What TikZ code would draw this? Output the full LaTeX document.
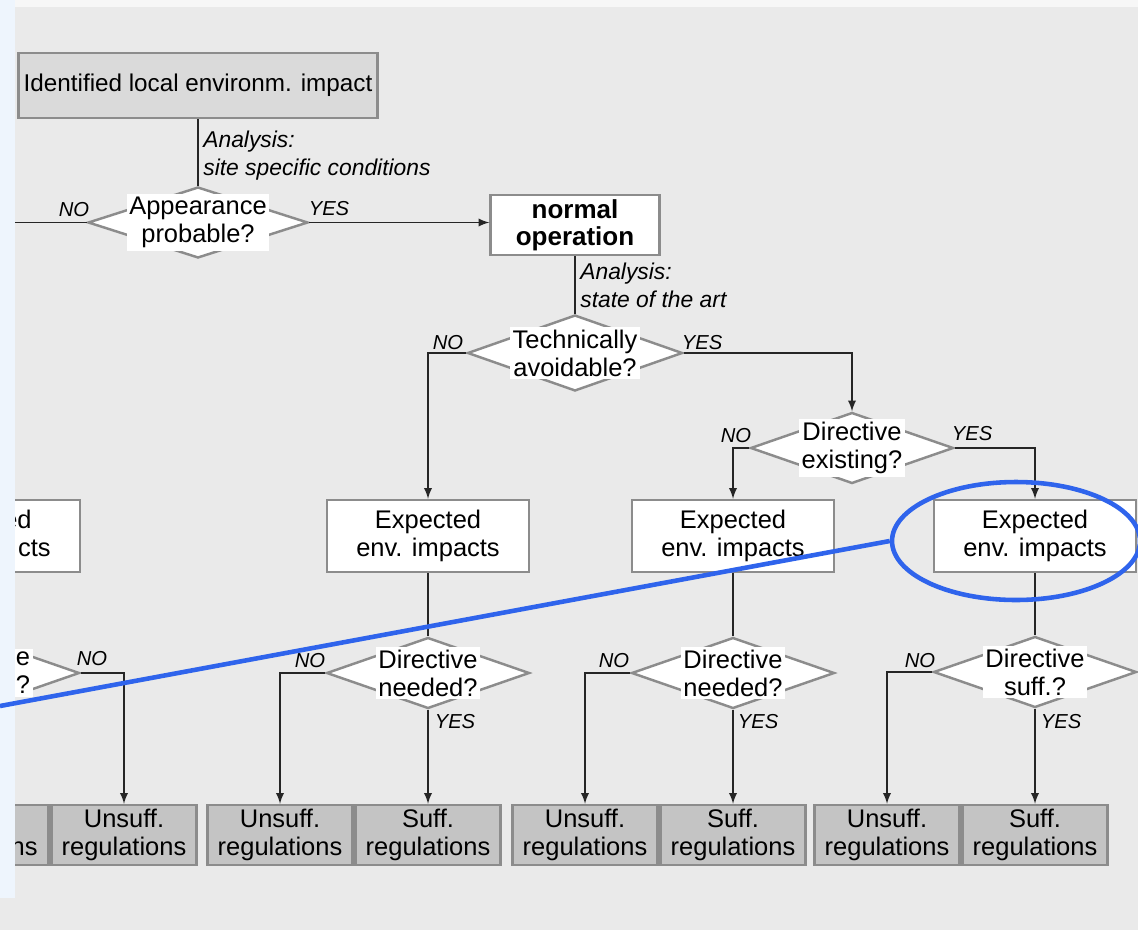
\documentclass[tikz,border=0pt]{standalone}
\usepackage{fontspec}
\setmainfont{Liberation Sans}
\usetikzlibrary{arrows}
\usetikzlibrary{shapes.geometric}

\definecolor{bggray}{HTML}{EAEAEA}
\definecolor{sidebar}{HTML}{EEF5FD}
\definecolor{topband}{HTML}{F7F7F7}
\definecolor{frame}{HTML}{8C8C8C}
\definecolor{lightfill}{HTML}{DADADA}
\definecolor{regfill}{HTML}{C4C4C4}
\definecolor{markblue}{HTML}{2F64EC}

\tikzset{
	plainbox/.style={rectangle, draw=frame, line width=1.4pt, inner sep=0pt, align=center, font=\fontsize{14.5}{16}\selectfont},
	startbox/.style={plainbox, fill=lightfill, minimum width=7.18cm, minimum height=1.3cm, font=\fontsize{13.8}{16}\selectfont},
	opbox/.style={plainbox, fill=white, minimum width=3.38cm, minimum height=1.2cm, font=\fontsize{14.8}{15.5}\selectfont\bfseries},
	impbox/.style={plainbox, fill=white, minimum width=4.04cm, minimum height=1.44cm},
	regbox/.style={plainbox, fill=regfill, minimum width=2.9cm, minimum height=1.2cm},
	decision/.style={diamond, draw=frame, fill=white, line width=1.4pt, inner sep=0pt, minimum width=4.06cm, minimum height=1.42cm},
	question/.style={fill=white, inner sep=1.5pt, align=center, font=\fontsize{14.5}{16}\selectfont},
	fragment/.style={inner sep=0pt, font=\fontsize{14.5}{16}\selectfont},
	answer/.style={inner sep=0pt, font=\fontsize{11.5}{14}\selectfont\itshape},
	remark/.style={inner sep=0pt, align=left, font=\fontsize{13}{15.9}\selectfont\itshape},
	flow/.style={draw=black!85, line width=1.1pt},
	focus/.style={draw=markblue, line width=2.6pt}
}

\begin{document}
\begin{tikzpicture}[x=0.02cm, y=-0.02cm, >=latex]

	\useasboundingbox (0,0) rectangle (1138,930);
	\clip (0,0) rectangle (1138,930);
	\fill[bggray] (0,0) rectangle (1138,930);
	\fill[topband] (15,0) rectangle (1138,7);

	% upper part
	\node[startbox] (impact) at (198,85.5) {Identified local environm. impact};
	\node[decision, minimum width=4.4cm] (appear) at (198,222.5) {};
	\node[question] (appearq) at (appear) {Appearance\\probable?};
	\node[opbox] (normal) at (575,225) {normal\\operation};
	\node[decision, minimum width=4.3cm, minimum height=1.52cm] (avoid) at (575,353) {};
	\node[question] (avoidq) at (avoid) {Technically\\avoidable?};
	\node[decision] (exist) at (852,448) {};
	\node[question] (existq) at (exist) {Directive\\existing?};

	% expected impacts
	\node[impbox] (impL) at (-21,536) {};
	\node[fragment, anchor=base east] (impLa) at (32,528.5) {ed};
	\node[fragment, anchor=base east] (impLb) at (51,556.7) {cts};
	\node[impbox] (impA) at (428,536) {Expected\\env. impacts};
	\node[impbox] (impB) at (733,536) {Expected\\env. impacts};
	\node[impbox] (impC) at (1035,536) {Expected\\env. impacts};

	% directives
	\node[decision] (needL) at (-22,673) {};
	\node[question, anchor=east, align=right] (needLq) at (33,673) {e\\?};
	\node[decision] (needA) at (428,673) {};
	\node[question] (needAq) at (needA) {Directive\\needed?};
	\node[decision] (needB) at (733,673) {};
	\node[question] (needBq) at (needB) {Directive\\needed?};
	\node[decision] (suffC) at (1035,672) {};
	\node[question] (suffCq) at (suffC) {Directive\\suff.?};

	% regulations
	\node[regbox] (regL) at (-24,835) {};
	\node[fragment, anchor=base east] (regLb) at (38,855.6) {ns};
	\node[regbox] (unsuffL) at (124,835) {Unsuff.\\regulations};
	\node[regbox] (unsuffA) at (280,835) {Unsuff.\\regulations};
	\node[regbox] (suffA) at (428,835) {Suff.\\regulations};
	\node[regbox] (unsuffB) at (585,835) {Unsuff.\\regulations};
	\node[regbox] (suffB) at (733,835) {Suff.\\regulations};
	\node[regbox] (unsuffC) at (887,835) {Unsuff.\\regulations};
	\node[regbox] (suffC2) at (1035,835) {Suff.\\regulations};

	% analysis notes
	\node[remark, anchor=north west] (siteinfo) at (203,131) {Analysis:\\site specific conditions};
	\node[remark, anchor=north west] (artinfo) at (580,263) {Analysis:\\state of the art};

	% answers
	\node[answer] (noAp) at (74,210) {NO};
	\node[answer] (yesAp) at (329,209) {YES};
	\node[answer] (noAv) at (448,343) {NO};
	\node[answer] (yesAv) at (702,343) {YES};
	\node[answer] (noEx) at (736,436) {NO};
	\node[answer] (yesEx) at (972,434) {YES};
	\node[answer] (noL) at (92,659) {NO};
	\node[answer] (noA) at (310,661) {NO};
	\node[answer] (yesA) at (455,722) {YES};
	\node[answer] (noB) at (614,661) {NO};
	\node[answer] (yesB) at (758,722) {YES};
	\node[answer] (noC) at (920,661) {NO};
	\node[answer] (yesC) at (1061,722) {YES};

	\coordinate (offleft) at (0,222.5);

	\draw[flow] (impact.south) -- (appear.north);
	\draw[flow] (appear.west) -- (offleft);
	\draw[flow, ->] (appear.east) -- (appear.east -| normal.west);
	\draw[flow] (normal.south) -- (avoid.north);

	\draw[flow, ->] (avoid.west) -| (impA.north);
	\draw[flow, ->] (avoid.east) -| (exist.north);
	\draw[flow, ->] (exist.west) -| (impB.north);
	\draw[flow, ->] (exist.east) -| (impC.north);

	\draw[flow] (impA.south) -- (needA.north);
	\draw[flow] (impB.south) -- (needB.north);
	\draw[flow] (impC.south) -- (suffC.north);

	\draw[flow, ->] (needL.east) -| (unsuffL.north);
	\draw[flow, ->] (needA.west) -| (unsuffA.north);
	\draw[flow, ->] (needA.south) -- (suffA.north);
	\draw[flow, ->] (needB.west) -| (unsuffB.north);
	\draw[flow, ->] (needB.south) -- (suffB.north);
	\draw[flow, ->] (suffC.west) -| (unsuffC.north);
	\draw[flow, ->] (suffC.south) -- (suffC2.north);

	% side strip
	\fill[sidebar] (0,0) rectangle (15,898);

	% highlight
	\node[focus, ellipse, minimum width=4.96cm, minimum height=2.36cm] (mark) at (1016,541) {};
	\coordinate (tail) at (0,706);
	\draw[focus] (tail) -- (mark.west);

\end{tikzpicture}
\end{document}
